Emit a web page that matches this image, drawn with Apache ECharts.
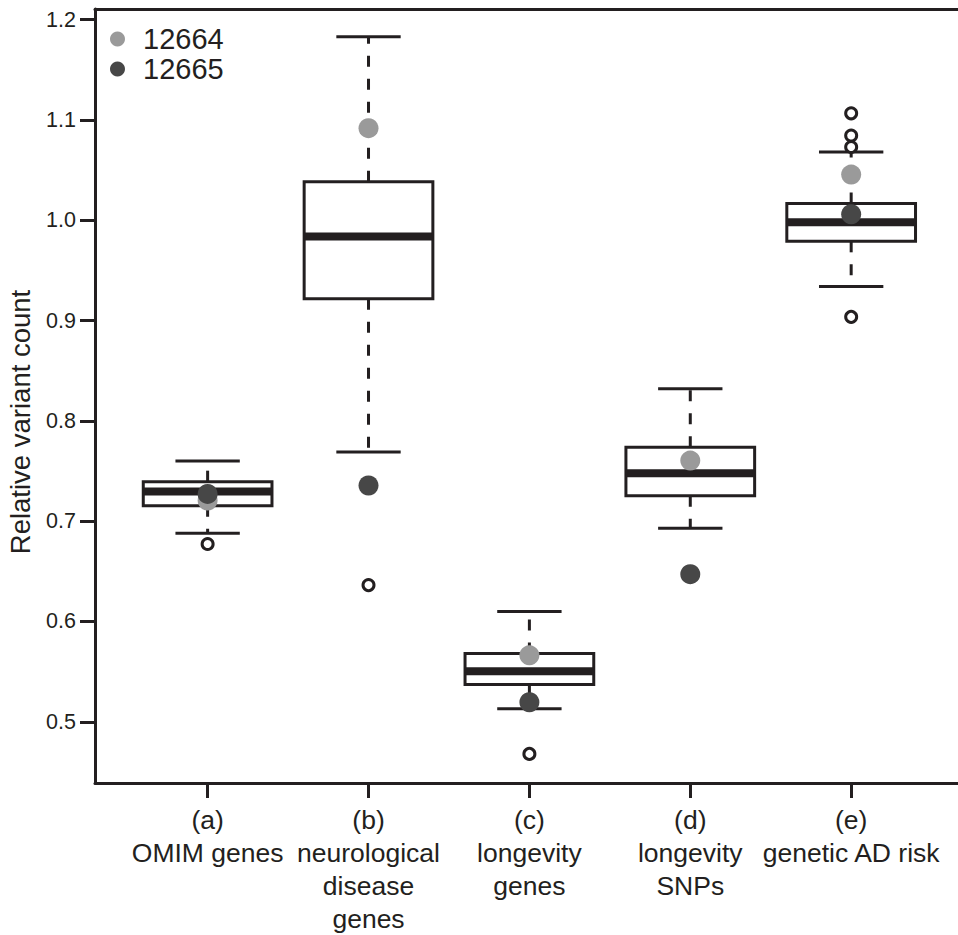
<!DOCTYPE html>
<html>
<head>
<meta charset="utf-8">
<script src="https://cdn.jsdelivr.net/npm/echarts@6/dist/echarts.min.js"></script>
<style>
  html, body { margin: 0; padding: 0; background: #fff; }
  #chart { width: 958px; height: 935px; }
</style>
</head>
<body>
<div id="chart"></div>
<script>
var groupLabels = [
  "(a)\nOMIM genes",
  "(b)\nneurological\ndisease\ngenes",
  "(c)\nlongevity\ngenes",
  "(d)\nlongevity\nSNPs",
  "(e)\ngenetic AD risk"
];
var lowerWhisker = [0.688, 0.769, 0.513, 0.693, 0.934];
var lowerQuartile = [0.7154, 0.9218, 0.5373, 0.7254, 0.979];
var medians = [0.7295, 0.9839, 0.5505, 0.7478, 0.998];
var upperQuartile = [0.7394, 1.0383, 0.568, 0.7736, 1.0168];
var upperWhisker = [0.760, 1.1829, 0.6099, 0.832, 1.068];
var outlierGroup = [1, 2, 3, 5, 5, 5, 5];
var outlierValues = [0.6773, 0.6363, 0.468, 1.1066, 1.0845, 1.073, 0.9037];
var sample12664 = [0.7206, 1.0918, 0.5663, 0.7604, 1.0455];
var sample12665 = [0.7272, 0.7356, 0.5195, 0.6472, 1.006];
var yTicks = [0.5, 0.6, 0.7, 0.8, 0.9, 1.0, 1.1, 1.2];
var xTicks = [1, 2, 3, 4, 5];

var ink = "#231f20";
var font = "'Liberation Sans', Arial, Helvetica, sans-serif";

var boxData = groupLabels.map(function(_, i) {
  return [i + 1, lowerWhisker[i], lowerQuartile[i], medians[i], upperQuartile[i], upperWhisker[i]];
});
var outlierData = outlierGroup.map(function(g, i) {
  return [g, outlierValues[i]];
});
function toPoints(arr) {
  return arr.map(function(v, i) { return [i + 1, v]; });
}

function renderBox(params, api) {
  var x = api.value(0);
  var lo = api.coord([x, api.value(1)]);
  var q1 = api.coord([x, api.value(2)]);
  var md = api.coord([x, api.value(3)]);
  var q3 = api.coord([x, api.value(4)]);
  var hi = api.coord([x, api.value(5)]);
  var boxL = api.coord([x - 0.4, 0])[0];
  var boxR = api.coord([x + 0.4, 0])[0];
  var capL = api.coord([x - 0.2, 0])[0];
  var capR = api.coord([x + 0.2, 0])[0];
  var solid = { stroke: ink, lineWidth: 3 };
  var dashed = { stroke: ink, lineWidth: 3, lineDash: [11, 12] };
  return {
    type: "group",
    children: [
      { type: "line", shape: { x1: q3[0], y1: q3[1], x2: hi[0], y2: hi[1] }, style: dashed },
      { type: "line", shape: { x1: q1[0], y1: q1[1], x2: lo[0], y2: lo[1] }, style: dashed },
      { type: "line", shape: { x1: capL, y1: hi[1], x2: capR, y2: hi[1] }, style: solid },
      { type: "line", shape: { x1: capL, y1: lo[1], x2: capR, y2: lo[1] }, style: solid },
      { type: "rect", shape: { x: boxL, y: q3[1], width: boxR - boxL, height: q1[1] - q3[1] },
        style: { fill: "#fff", stroke: ink, lineWidth: 3 } },
      { type: "line", shape: { x1: boxL, y1: md[1], x2: boxR, y2: md[1] },
        style: { stroke: ink, lineWidth: 8 } }
    ]
  };
}

var chart = echarts.init(document.getElementById("chart"), null, { renderer: "svg" });
chart.setOption({
  animation: false,
  backgroundColor: "#fff",
  textStyle: { fontFamily: font, color: ink },
  grid: { left: 95, right: 0, top: 9, bottom: 147 },
  legend: {
    data: ["12664", "12665"],
    orient: "vertical",
    left: 110,
    top: 24,
    padding: 0,
    itemGap: 0,
    itemWidth: 15,
    itemHeight: 15,
    icon: "circle",
    textStyle: { fontFamily: font, fontSize: 29, color: ink, lineHeight: 30, padding: [0, 0, 0, 13] }
  },
  xAxis: [{
    type: "value",
    min: 0.3,
    max: 5.664,
    splitLine: { show: false },
    axisLine: { show: true, onZero: false, lineStyle: { color: ink, width: 3 } },
    axisTick: { show: true, customValues: xTicks, length: 15, lineStyle: { color: ink, width: 3 } },
    axisLabel: {
      customValues: xTicks,
      margin: 20,
      fontFamily: font,
      fontSize: 26.5,
      lineHeight: 33,
      color: ink,
      align: "center",
      formatter: function(v) { return groupLabels[Math.round(v) - 1]; }
    }
  }, {
    type: "value",
    position: "top",
    min: 0.3,
    max: 5.664,
    splitLine: { show: false },
    axisLine: { show: true, onZero: false, lineStyle: { color: ink, width: 3 } },
    axisTick: { show: false },
    axisLabel: { show: false }
  }],
  yAxis: {
    type: "value",
    min: 0.439,
    max: 1.2106,
    splitLine: { show: false },
    axisLine: { show: true, onZero: false, lineStyle: { color: ink, width: 3 } },
    axisTick: { show: true, customValues: yTicks, length: 15, lineStyle: { color: ink, width: 3 } },
    axisLabel: {
      customValues: yTicks,
      margin: 19,
      fontFamily: font,
      fontSize: 21.5,
      color: ink,
      formatter: function(v) { return v.toFixed(1); }
    }
  },
  graphic: [{
    type: "text",
    x: 20,
    y: 422,
    rotation: Math.PI / 2,
    style: {
      text: "Relative variant count",
      fontFamily: font,
      fontSize: 27.5,
      fill: ink,
      align: "center",
      verticalAlign: "middle"
    }
  }],
  series: [{
    type: "custom",
    name: "box",
    renderItem: renderBox,
    encode: { x: 0, y: [1, 2, 3, 4, 5] },
    data: boxData,
    z: 2
  }, {
    type: "scatter",
    name: "outliers",
    symbol: "circle",
    symbolSize: 11,
    itemStyle: { color: "#fff", borderColor: ink, borderWidth: 3, opacity: 1 },
    data: outlierData,
    z: 3
  }, {
    type: "scatter",
    name: "12664",
    symbol: "circle",
    symbolSize: 20,
    itemStyle: { color: "#9a9a9a", opacity: 1 },
    data: toPoints(sample12664),
    z: 4
  }, {
    type: "scatter",
    name: "12665",
    symbol: "circle",
    symbolSize: 20,
    itemStyle: { color: "#474747", opacity: 1 },
    data: toPoints(sample12665),
    z: 5
  }]
});
</script>
</body>
</html>
